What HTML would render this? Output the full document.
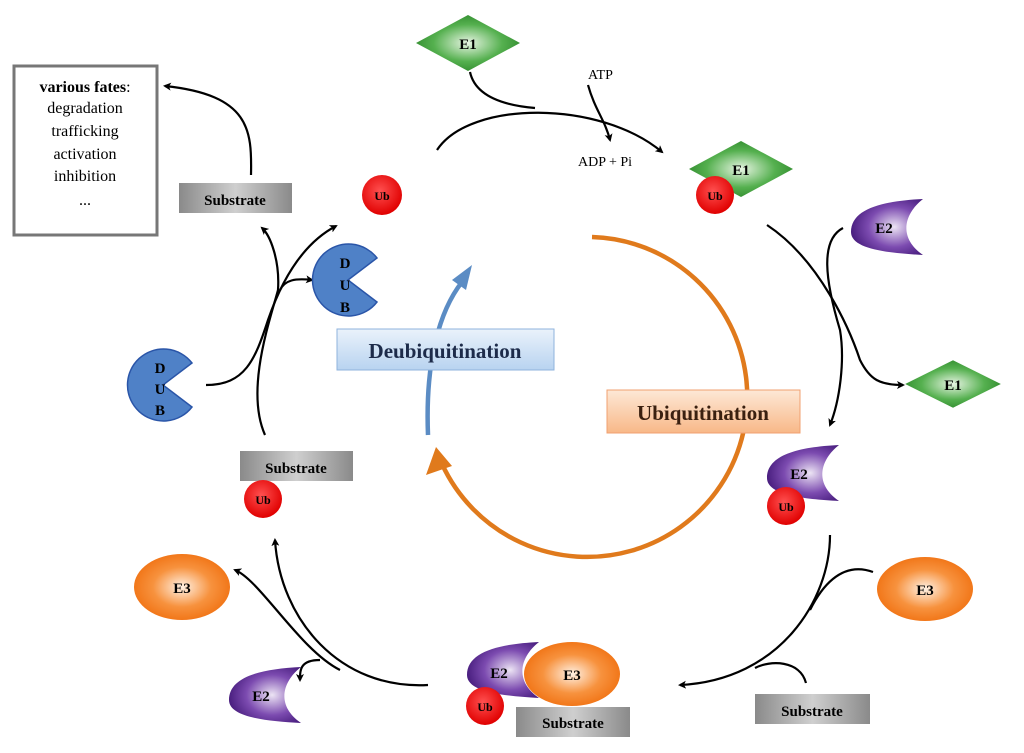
<!DOCTYPE html>
<html><head><meta charset="utf-8"><style>
html,body{margin:0;padding:0;background:#fff;}
svg{display:block;font-family:"Liberation Serif",serif;font-weight:bold;}
</style></head><body>
<svg width="1024" height="753" viewBox="0 0 1024 753" xmlns="http://www.w3.org/2000/svg">
<defs>
<radialGradient id="g" cx="50%" cy="50%" r="55%"><stop offset="0" stop-color="#e8f5e4"/><stop offset="0.6" stop-color="#55b04f"/><stop offset="1" stop-color="#2f8a2c"/></radialGradient>
<radialGradient id="p" cx="60%" cy="50%" r="60%"><stop offset="0" stop-color="#ece4f4"/><stop offset="0.6" stop-color="#7c4bb0"/><stop offset="1" stop-color="#4a1f80"/></radialGradient>
<radialGradient id="o" cx="50%" cy="50%" r="55%"><stop offset="0" stop-color="#fff1e4"/><stop offset="0.55" stop-color="#f7923e"/><stop offset="1" stop-color="#f07010"/></radialGradient>
<radialGradient id="r" cx="45%" cy="40%" r="60%"><stop offset="0" stop-color="#ff5050"/><stop offset="1" stop-color="#e00000"/></radialGradient>
<linearGradient id="s" x1="0" y1="0" x2="1" y2="0"><stop offset="0" stop-color="#8a8a8a"/><stop offset="0.5" stop-color="#cfcfcf"/><stop offset="1" stop-color="#8a8a8a"/></linearGradient>
<linearGradient id="ub" x1="0" y1="0" x2="0" y2="1"><stop offset="0" stop-color="#fde8d6"/><stop offset="1" stop-color="#f8b888"/></linearGradient>
<linearGradient id="db" x1="0" y1="0" x2="0" y2="1"><stop offset="0" stop-color="#eaf2fb"/><stop offset="1" stop-color="#b8d3f0"/></linearGradient>
<marker id="a" markerWidth="8" markerHeight="8" refX="6" refY="4" orient="auto" markerUnits="userSpaceOnUse"><path d="M0,0 L8,4 L0,8 L2,4z" fill="#000"/></marker>
<g id="e1d"><polygon points="-52,0 0,-28 52,0 0,28" fill="url(#g)"/></g>
<g id="e2c"><path d="M-36,5 C-36,-18 -5,-26 36,-28 C18,-14 10,10 36,28 C0,26 -36,22 -36,5z" fill="url(#p)"/></g>
<g id="dub"><path d="M0,0 L29,-22 A36,36 0 1 0 29,22 Z" fill="#4f81c7" stroke="#2a55a8" stroke-width="1.5"/></g>
</defs>

<rect x="14" y="66" width="143" height="169" fill="#fff" stroke="#777" stroke-width="3"/>
<text x="85" y="92" font-size="16" text-anchor="middle">various fates<tspan font-weight="normal">:</tspan></text>
<g font-weight="normal" font-size="16" text-anchor="middle">
<text x="85" y="113">degradation</text><text x="85" y="136">trafficking</text>
<text x="85" y="159">activation</text><text x="85" y="181">inhibition</text><text x="85" y="205">...</text></g>

<g fill="none" stroke="#000" stroke-width="2.2">
<path d="M251,175 C252,130 250,95 165,86" marker-end="url(#a)"/>
<path d="M437,150 C470,100 600,100 662,152" marker-end="url(#a)"/>
<path d="M470,72 C475,95 500,105 535,108"/>
<path d="M588,85 C595,110 605,120 610,140" marker-end="url(#a)"/>
<path d="M767,225 C820,260 850,330 860,360 C870,380 880,385 903,385" marker-end="url(#a)"/>
<path d="M843,228 C820,240 825,280 840,330 C845,360 840,400 830,425" marker-end="url(#a)"/>
<path d="M830,535 C830,600 780,680 680,685" marker-end="url(#a)"/>
<path d="M873,572 C840,560 820,590 810,610"/>
<path d="M806,683 C800,660 770,660 755,668"/>
<path d="M428,685 C340,690 280,620 275,540" marker-end="url(#a)"/>
<path d="M340,670 C300,650 260,580 235,570" marker-end="url(#a)"/>
<path d="M320,660 C300,660 300,670 300,680" marker-end="url(#a)"/>
<path d="M265,435 C245,390 270,320 278,290 C280,260 270,235 262,228" marker-end="url(#a)"/>
<path d="M206,385 C245,385 255,360 268,320 C280,285 300,245 336,226" marker-end="url(#a)"/>
<path d="M280,290 C285,280 295,278 312,280" marker-end="url(#a)"/>
</g>

<path d="M592,237 A160,160 0 1 1 442,464" fill="none" stroke="#e07a1c" stroke-width="4.5"/>
<polygon points="436,447 426,475 452,466" fill="#e07a1c"/>
<path d="M428,435 C425,360 440,310 462,282" fill="none" stroke="#5b8cc4" stroke-width="4.5"/>
<polygon points="472,265 452,280 466,290" fill="#5b8cc4"/>

<rect x="337" y="329" width="217" height="41" fill="url(#db)" stroke="#8fb3dc"/>
<text x="445" y="358" font-size="21" text-anchor="middle" fill="#1d2b4a">Deubiquitination</text>
<rect x="607" y="390" width="193" height="43" fill="url(#ub)" stroke="#f0a070"/>
<text x="703" y="420" font-size="21" text-anchor="middle" fill="#3a2010">Ubiquitination</text>

<use href="#e1d" x="468" y="43"/><text x="468" y="49" font-size="15" text-anchor="middle">E1</text>
<text x="588" y="79" font-size="14" font-weight="normal">ATP</text>
<text x="578" y="166" font-size="14" font-weight="normal">ADP + Pi</text>
<use href="#e1d" x="741" y="169"/><text x="741" y="175" font-size="15" text-anchor="middle">E1</text>
<circle cx="715" cy="195" r="19" fill="url(#r)"/><text x="715" y="200" font-size="12" text-anchor="middle">Ub</text>
<g transform="translate(953,384) scale(0.92,0.85)"><use href="#e1d"/></g><text x="953" y="390" font-size="15" text-anchor="middle">E1</text>

<use href="#e2c" x="887" y="227"/><text x="884" y="233" font-size="15" text-anchor="middle">E2</text>
<use href="#e2c" x="803" y="473"/><text x="799" y="479" font-size="15" text-anchor="middle">E2</text>
<circle cx="786" cy="506" r="19" fill="url(#r)"/><text x="786" y="511" font-size="12" text-anchor="middle">Ub</text>
<use href="#e2c" x="265" y="695"/><text x="261" y="701" font-size="15" text-anchor="middle">E2</text>
<use href="#e2c" x="503" y="670"/><text x="499" y="678" font-size="15" text-anchor="middle">E2</text>

<ellipse cx="925" cy="589" rx="48" ry="32" fill="url(#o)"/><text x="925" y="595" font-size="15" text-anchor="middle">E3</text>
<ellipse cx="182" cy="587" rx="48" ry="33" fill="url(#o)"/><text x="182" y="593" font-size="15" text-anchor="middle">E3</text>
<ellipse cx="572" cy="674" rx="48" ry="32" fill="url(#o)"/><text x="572" y="680" font-size="15" text-anchor="middle">E3</text>
<circle cx="485" cy="706" r="19" fill="url(#r)"/><text x="485" y="711" font-size="12" text-anchor="middle">Ub</text>

<rect x="516" y="707" width="114" height="30" fill="url(#s)"/><text x="573" y="728" font-size="15" text-anchor="middle">Substrate</text>
<rect x="755" y="694" width="115" height="30" fill="url(#s)"/><text x="812" y="716" font-size="15" text-anchor="middle">Substrate</text>
<rect x="240" y="451" width="113" height="30" fill="url(#s)"/><text x="296" y="473" font-size="15" text-anchor="middle">Substrate</text>
<circle cx="263" cy="499" r="19" fill="url(#r)"/><text x="263" y="504" font-size="12" text-anchor="middle">Ub</text>
<rect x="179" y="183" width="113" height="30" fill="url(#s)"/><text x="235" y="205" font-size="15" text-anchor="middle">Substrate</text>
<circle cx="382" cy="195" r="20" fill="url(#r)"/><text x="382" y="200" font-size="12" text-anchor="middle">Ub</text>

<use href="#dub" x="348" y="280"/>
<g font-size="15" text-anchor="middle"><text x="345" y="268">D</text><text x="345" y="290">U</text><text x="345" y="312">B</text></g>
<use href="#dub" x="163" y="385"/>
<g font-size="15" text-anchor="middle"><text x="160" y="373">D</text><text x="160" y="394">U</text><text x="160" y="415">B</text></g>
</svg>
</body></html>
